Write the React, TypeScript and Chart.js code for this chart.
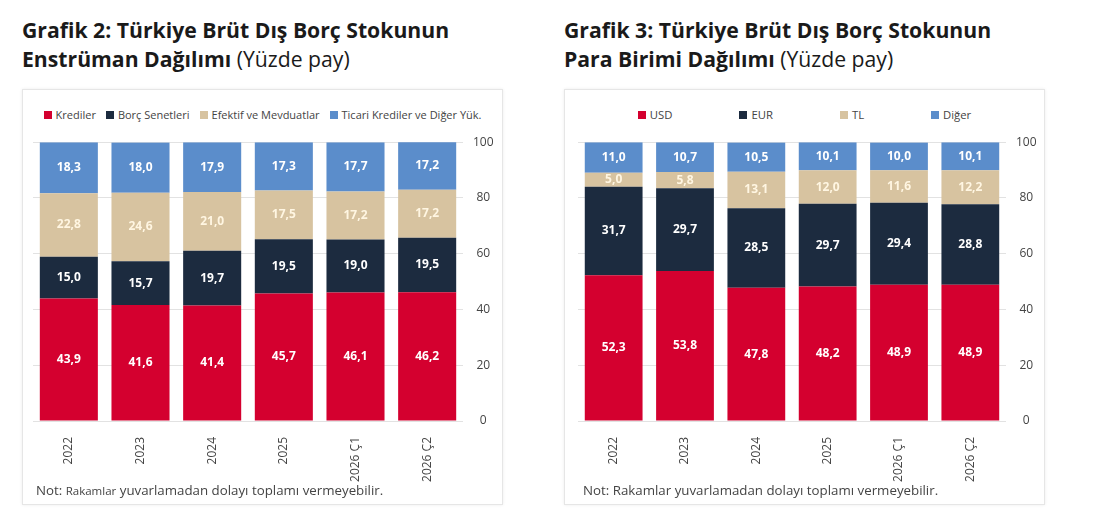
import React, { useEffect, useRef } from "react";
import { Chart, registerables } from "chart.js";

Chart.register(...registerables);

const categories = ["2022", "2023", "2024", "2025", "2026 Ç1", "2026 Ç2"];
const yTicks = [0, 20, 40, 60, 80, 100];

// Grafik 2 – enstrüman dağılımı
const krediler = [43.9, 41.6, 41.4, 45.7, 46.1, 46.2];
const borcSenetleri = [15.0, 15.7, 19.7, 19.5, 19.0, 19.5];
const efektifMevduat = [22.8, 24.6, 21.0, 17.5, 17.2, 17.2];
const ticariKrediler = [18.3, 18.0, 17.9, 17.3, 17.7, 17.2];

// Grafik 3 – para birimi dağılımı
const usd = [52.3, 53.8, 47.8, 48.2, 48.9, 48.9];
const eur = [31.7, 29.7, 28.5, 29.7, 29.4, 28.8];
const tl = [5.0, 5.8, 13.1, 12.0, 11.6, 12.2];
const diger = [11.0, 10.7, 10.5, 10.1, 10.0, 10.1];

const RED = "#d4002f";
const NAVY = "#1c2b3f";
const TAN = "#d7c3a0";
const BLUE = "#5b8dcb";
const FONT = "'Open Sans', 'Noto Sans', sans-serif";

interface Series {
  label: string;
  data: number[];
  color: string;
  textColor: string;
}

// white value labels in the middle of each segment
const valueLabels = {
  id: "valueLabels",
  afterDatasetsDraw(chart: any) {
    const ctx = chart.ctx;
    ctx.save();
    ctx.font = `bold 12px ${FONT}`;
    ctx.textAlign = "center";
    ctx.textBaseline = "middle";
    chart.data.datasets.forEach((ds: any, i: number) => {
      const meta = chart.getDatasetMeta(i);
      meta.data.forEach((bar: any, j: number) => {
        const v = ds.data[j] as number;
        ctx.fillStyle = ds.labelColor;
        ctx.fillText(v.toFixed(1).replace(".", ","), bar.x, (bar.y + bar.base) / 2);
      });
    });
    ctx.restore();
  },
};

const StackedChart: React.FC<{ series: Series[]; plotLeft: number; axisWidth: number; tickPad: number }> = ({
  series,
  plotLeft,
  axisWidth,
  tickPad,
}) => {
  const canvasRef = useRef<HTMLCanvasElement>(null);

  useEffect(() => {
    if (!canvasRef.current) return;
    const chart = new Chart(canvasRef.current, {
      type: "bar",
      data: {
        labels: categories,
        datasets: series.map((s) => ({
          label: s.label,
          data: s.data,
          backgroundColor: s.color,
          labelColor: s.textColor,
          barPercentage: 0.81,
          categoryPercentage: 1,
        })) as any,
      },
      options: {
        animation: false,
        responsive: false,
        maintainAspectRatio: false,
        layout: { padding: { left: plotLeft, top: 4, right: 0, bottom: 0 } },
        plugins: { legend: { display: false }, tooltip: { enabled: false } },
        scales: {
          x: {
            stacked: true,
            grid: { display: false },
            border: { display: false },
            ticks: {
              color: "#444",
              font: { family: FONT, size: 12 },
              minRotation: 90,
              maxRotation: 90,
              padding: 8,
            },
            afterFit: (scale: any) => {
              scale.height = 66;
            },
          },
          y: {
            stacked: true,
            position: "right",
            min: 0,
            max: 100,
            afterBuildTicks: (scale: any) => {
              scale.ticks = yTicks.map((v) => ({ value: v }));
            },
            grid: { color: "#e2e2e2", drawTicks: false },
            border: { display: false },
            ticks: {
              color: "#444",
              font: { family: FONT, size: 12 },
              padding: tickPad,
              crossAlign: "center",
            },
            afterFit: (scale: any) => {
              scale.width = axisWidth;
            },
          },
        },
      },
      plugins: [valueLabels],
    });
    return () => {
      chart.destroy();
    };
  }, []);

  return <canvas ref={canvasRef} width={481} height={362} style={{ display: "block" }} />;
};

const Panel: React.FC<{
  left: number;
  title1: string;
  title2: string;
  series: Series[];
  legendGap: number;
  legendSize: number;
  plotLeft: number;
  axisWidth: number;
  tickPad: number;
  noteX: number;
  smallWord: boolean;
}> = ({ left, title1, title2, series, legendGap, legendSize, plotLeft, axisWidth, tickPad, noteX, smallWord }) => (
  <>
    <div
      style={{
        position: "absolute",
        left,
        top: 15,
        fontFamily: FONT,
        fontSize: 21.2,
        lineHeight: "29px",
        color: "#1a1a1a",
        whiteSpace: "nowrap",
      }}
    >
      <div style={{ fontWeight: 700 }}>{title1}</div>
      <div>
        <span style={{ fontWeight: 700 }}>{title2}</span> (Yüzde pay)
      </div>
    </div>
    <div
      style={{
        position: "absolute",
        left,
        top: 89,
        width: 479,
        height: 414,
        border: "1px solid #e6e6e6",
        boxShadow: "0 0 3px rgba(0,0,0,0.08)",
        background: "#fff",
      }}
    >
      <div
        style={{
          position: "absolute",
          left: 0,
          right: 0,
          top: 17,
          display: "flex",
          justifyContent: "center",
          gap: legendGap,
          fontFamily: FONT,
          fontSize: legendSize,
          lineHeight: "16px",
          color: "#444",
          whiteSpace: "nowrap",
        }}
      >
        {series.map((s) => (
          <div key={s.label} style={{ display: "flex", alignItems: "center" }}>
            <span style={{ width: 8, height: 8, background: s.color, marginRight: 4, display: "inline-block" }} />
            {s.label}
          </div>
        ))}
      </div>
      <div style={{ position: "absolute", left: -1, top: 35 }}>
        <StackedChart series={series} plotLeft={plotLeft} axisWidth={axisWidth} tickPad={tickPad} />
      </div>
      <div
        style={{
          position: "absolute",
          left: noteX,
          top: 391,
          fontFamily: FONT,
          fontSize: 13.3,
          lineHeight: "18px",
          color: "#444",
          whiteSpace: "nowrap",
        }}
      >
        Not: {smallWord ? <span style={{ fontSize: 11.5 }}>Rakamlar</span> : "Rakamlar"} yuvarlamadan dolayı toplamı
        vermeyebilir.
      </div>
    </div>
  </>
);

export default function App() {
  const left: Series[] = [
    { label: "Krediler", data: krediler, color: RED, textColor: "#ffffff" },
    { label: "Borç Senetleri", data: borcSenetleri, color: NAVY, textColor: "#ffffff" },
    { label: "Efektif ve Mevduatlar", data: efektifMevduat, color: TAN, textColor: "#fff6e2" },
    { label: "Ticari Krediler ve Diğer Yük.", data: ticariKrediler, color: BLUE, textColor: "#ffffff" },
  ];
  const right: Series[] = [
    { label: "USD", data: usd, color: RED, textColor: "#ffffff" },
    { label: "EUR", data: eur, color: NAVY, textColor: "#ffffff" },
    { label: "TL", data: tl, color: TAN, textColor: "#fff6e2" },
    { label: "Diğer", data: diger, color: BLUE, textColor: "#ffffff" },
  ];
  return (
    <div style={{ position: "absolute", left: 0, top: 0, width: 1102, height: 522, background: "#fff", overflow: "hidden" }}>
      <Panel
        left={22}
        title1="Grafik 2: Türkiye Brüt Dış Borç Stokunun"
        title2="Enstrüman Dağılımı"
        series={left}
        legendGap={10}
        legendSize={11}
        plotLeft={11}
        axisWidth={40}
        tickPad={10}
        noteX={13}
        smallWord
      />
      <Panel
        left={564}
        title1="Grafik 3: Türkiye Brüt Dış Borç Stokunun"
        title2="Para Birimi Dağılımı"
        series={right}
        legendGap={67}
        legendSize={11.3}
        plotLeft={14}
        axisWidth={39}
        tickPad={10}
        noteX={18}
        smallWord={false}
      />
    </div>
  );
}
